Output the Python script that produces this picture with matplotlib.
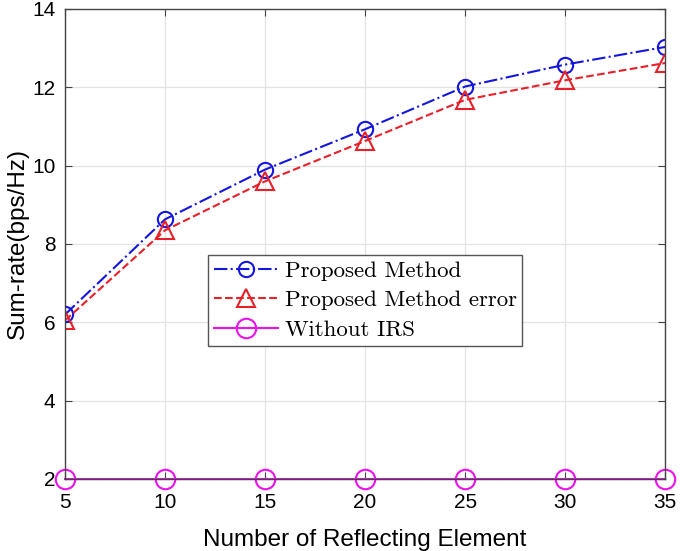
import matplotlib
matplotlib.use("Agg")
import matplotlib.pyplot as plt

x = [5, 10, 15, 20, 25, 30, 35]
proposed = [6.2, 8.63, 9.9, 10.93, 12.02, 12.58, 13.03]
proposed_err = [6.05, 8.35, 9.6, 10.63, 11.68, 12.18, 12.62]
without_irs = [2, 2, 2, 2, 2, 2, 2]
xticks = [5, 10, 15, 20, 25, 30, 35]
yticks = [2, 4, 6, 8, 10, 12, 14]

fig = plt.figure(figsize=(6.85, 5.51), dpi=100)
ax = fig.add_axes([0.095, 0.1307, 0.876, 0.853])

ax.plot(x, proposed, color='#1515e0', linestyle='-.', marker='o', markersize=11,
        markerfacecolor='none', markeredgewidth=1.5, linewidth=1.5, label='Proposed Method')
ax.plot(x, proposed_err, color='#e8202a', linestyle='--', marker='^', markersize=13,
        markerfacecolor='none', markeredgewidth=1.5, linewidth=1.5, label='Proposed Method error')
ax.plot(x, without_irs, color='#ee10ee', linestyle='-', marker='o', markersize=14,
        markerfacecolor='none', markeredgewidth=1.5, linewidth=1.5, label='Without IRS',
        clip_on=False, zorder=2.2)

ax.set_xlim(5, 35)
ax.set_ylim(2, 14)
ax.set_xticks(xticks)
ax.set_yticks(yticks)
ax.tick_params(direction='in', labelsize=15, length=5, color='#444444',
               top=True, right=True)
ax.tick_params(axis='x', pad=10)
ax.tick_params(axis='y', pad=7)
for lab in ax.get_xticklabels() + ax.get_yticklabels():
    lab.set_fontfamily('Liberation Sans')
ax.grid(True, color='#e3e3e3', linewidth=0.9)
for s in ax.spines.values():
    s.set_color('#444444')
    s.set_linewidth(1.0)
    s.set_zorder(2.5)

ax.set_xlabel('Number of Reflecting Element', fontsize=17.5, family='Liberation Sans', labelpad=12)
ax.set_ylabel('Sum-rate(bps/Hz)', fontsize=17.5, family='Liberation Sans', labelpad=2)

leg = ax.legend(loc='upper left', bbox_to_anchor=(0.238, 0.4766), prop={'family': 'cmr10', 'size': 16.5},
                fancybox=False, edgecolor='#555555', framealpha=1, handlelength=2.8,
                borderpad=0.25, labelspacing=0.42, handletextpad=0.3, borderaxespad=0)
leg.get_frame().set_linewidth(1.0)
leg.set_zorder(6)

fig.savefig('out.png', dpi=100)
